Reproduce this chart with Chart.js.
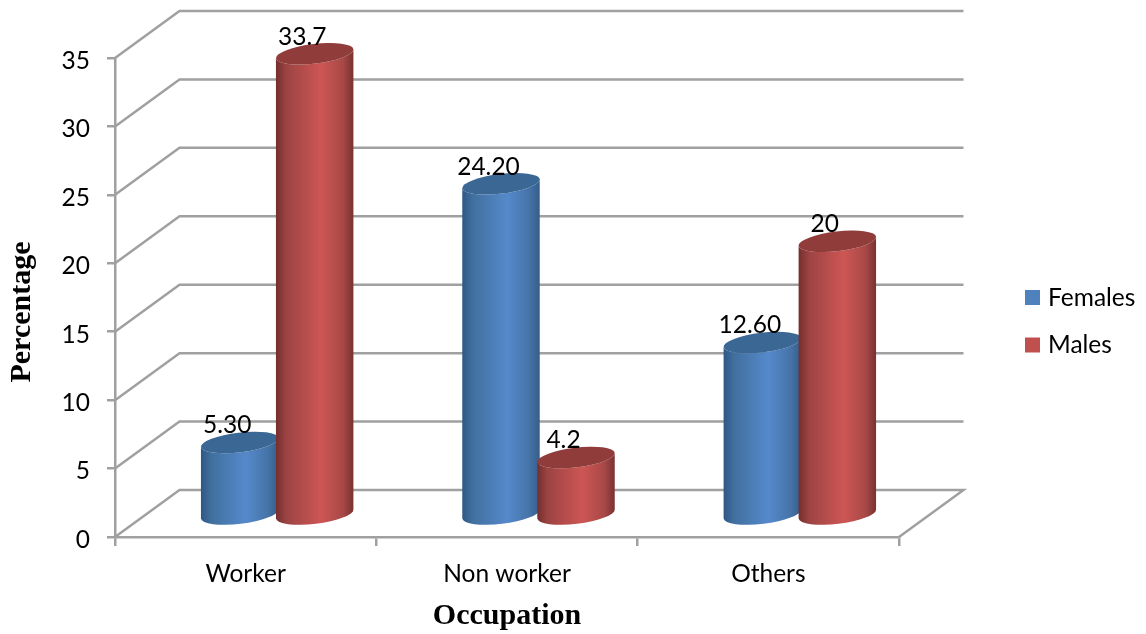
<!DOCTYPE html>
<html>
<head>
<meta charset="utf-8">
<title>Occupation by sex</title>
<style>
  html, body { margin: 0; padding: 0; background: #fff; }
  canvas { display: block; }
</style>
<script src="https://cdn.jsdelivr.net/npm/chart.js@4/dist/chart.umd.min.js"></script>
</head>
<body>
<canvas id="chart" width="1146" height="634"></canvas>
<script>
const occupations = ['Worker', 'Non worker', 'Others'];
const females = [5.3, 24.2, 12.6];
const males = [33.7, 4.2, 20];
const femaleLabels = ['5.30', '24.20', '12.60'];
const maleLabels = ['33.7', '4.2', '20'];

const SANS = 'Lato, "Open Sans", sans-serif';
const SERIF = '"Liberation Serif", serif';
const TEXT_SIZE = 24.5;
const AXIS_GREY = '#a0a0a0';

// Oblique projection of the chart box: the back wall sits up and to the right.
const DEPTH_X = 64.5;
const DEPTH_Y = 47;
// Cylinders stand in the middle of the floor.
const BAR_SHIFT_X = 31.5;
const BAR_SHIFT_Y = 23;
const CAP_DROP = 1;
const TILT = -6.8 * Math.PI / 180;
const CAP_RY = 9.8;

const palettes = {
  Females: {
    key: '#4f81bd', cap: '#3b6795',
    side: [[0, '#2d5785'], [0.14, '#41709f'], [0.58, '#5589cb'], [0.86, '#4674a8'], [1, '#335d8a']]
  },
  Males: {
    key: '#c0504d', cap: '#8f3c3b',
    side: [[0, '#742d2d'], [0.14, '#9c4443'], [0.58, '#cd5654'], [0.86, '#a84947'], [1, '#783130']]
  }
};

function drawCylinder(ctx, cx, top, base, rx, pal) {
  const cos = Math.cos(TILT) * rx, sin = Math.sin(TILT) * rx;
  const g = ctx.createLinearGradient(cx - rx, 0, cx + rx, 0);
  pal.side.forEach(([p, c]) => g.addColorStop(p, c));
  ctx.beginPath();
  ctx.moveTo(cx + cos, top + sin);
  ctx.lineTo(cx + cos, base + sin);
  ctx.ellipse(cx, base, rx, CAP_RY, TILT, 0, Math.PI);
  ctx.lineTo(cx - cos, top - sin);
  ctx.ellipse(cx, top, rx, CAP_RY, TILT, Math.PI, 0, true);
  ctx.closePath();
  ctx.fillStyle = g;
  ctx.fill();
  ctx.beginPath();
  ctx.ellipse(cx, top, rx, CAP_RY, TILT, 0, Math.PI * 2);
  ctx.fillStyle = pal.cap;
  ctx.fill();
}

const boxAndCylinders = {
  id: 'boxAndCylinders',
  beforeDatasetsDraw(chart) {
    const { ctx, chartArea: a, scales: { y } } = chart;
    ctx.save();
    ctx.strokeStyle = AXIS_GREY;
    ctx.lineWidth = 2.5;
    y.ticks.forEach(t => {
      const py = y.getPixelForValue(t.value);
      ctx.beginPath();
      ctx.moveTo(a.left, py);
      ctx.lineTo(a.left + DEPTH_X, py - DEPTH_Y);
      ctx.lineTo(a.right + DEPTH_X, py - DEPTH_Y);
      if (t.value === 0) ctx.lineTo(a.right, py);
      ctx.stroke();
    });
    ctx.restore();
  },
  // Flat bars are replaced by cylinders, painted together so the second series overlaps the first.
  beforeDatasetDraw() {
    return false;
  },
  afterDatasetsDraw(chart) {
    const { ctx, chartArea: a, scales: { y } } = chart;
    const floor = y.getPixelForValue(0) - BAR_SHIFT_Y;

    chart.data.datasets.forEach((ds, d) => {
      chart.getDatasetMeta(d).data.forEach((bar, i) => {
        drawCylinder(ctx, bar.x + BAR_SHIFT_X, y.getPixelForValue(ds.data[i]) - BAR_SHIFT_Y + CAP_DROP,
          floor, bar.width * 0.52, palettes[ds.label]);
      });
    });

    ctx.save();
    ctx.fillStyle = '#000';
    ctx.textBaseline = 'middle';
    ctx.textAlign = 'center';
    ctx.font = TEXT_SIZE + 'px ' + SANS;
    chart.data.datasets.forEach((ds, d) => {
      chart.getDatasetMeta(d).data.forEach((bar, i) => {
        ctx.fillText(ds.valueLabels[i], bar.x + BAR_SHIFT_X - 12.5,
          y.getPixelForValue(ds.data[i]) - BAR_SHIFT_Y - 16);
      });
    });

    // Legend entries
    ctx.textAlign = 'left';
    chart.data.datasets.forEach((ds, d) => {
      const ly = 297 + d * 47.5;
      ctx.fillStyle = palettes[ds.label].key;
      ctx.fillRect(1025, ly - 7, 15, 15);
      ctx.fillStyle = '#000';
      ctx.fillText(ds.label, 1048, ly + 1);
    });

    // Axis titles
    ctx.font = 'bold 30px ' + SERIF;
    ctx.textAlign = 'center';
    ctx.fillText('Occupation', (a.left + a.right) / 2, 616);
    ctx.translate(22, 312);
    ctx.rotate(-Math.PI / 2);
    ctx.fillText('Percentage', 0, 0);
    ctx.restore();
  }
};

new Chart(document.getElementById('chart'), {
  type: 'bar',
  data: {
    labels: occupations,
    datasets: [
      { label: 'Females', data: females, valueLabels: femaleLabels, backgroundColor: palettes.Females.key },
      { label: 'Males', data: males, valueLabels: maleLabels, backgroundColor: palettes.Males.key }
    ]
  },
  options: {
    responsive: false,
    animation: false,
    layout: { padding: { top: 58, right: 247, left: 0, bottom: 0 } },
    plugins: { legend: { display: false }, tooltip: { enabled: false }, title: { display: false } },
    datasets: { bar: { categoryPercentage: 0.574, barPercentage: 1 } },
    scales: {
      x: {
        afterFit(s) { s.height = 97; },
        border: { color: AXIS_GREY, width: 2.5 },
        grid: { drawOnChartArea: false, color: AXIS_GREY, lineWidth: 2.5, tickLength: 9 },
        ticks: { color: '#000', padding: 13, font: { family: SANS, size: TEXT_SIZE }, maxRotation: 0 }
      },
      y: {
        min: 0, max: 35,
        afterFit(s) { s.width = 115; },
        border: { color: AXIS_GREY, width: 2.5 },
        grid: { drawOnChartArea: false, color: AXIS_GREY, lineWidth: 2.5, tickLength: 8 },
        ticks: { stepSize: 5, color: '#000', padding: 17, labelOffset: 3, font: { family: SANS, size: TEXT_SIZE } }
      }
    }
  },
  plugins: [boxAndCylinders]
});
</script>
</body>
</html>
